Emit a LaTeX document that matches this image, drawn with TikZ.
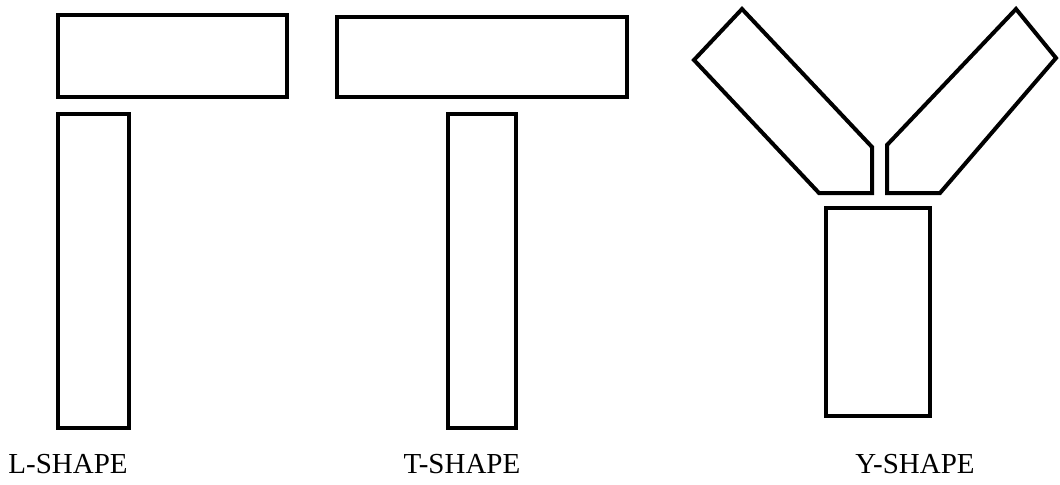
\documentclass[tikz,border=0pt]{standalone}
\usepackage{fontspec}
\setmainfont{Liberation Serif}
\begin{document}
\begin{tikzpicture}[
  x=0.5pt,y=-0.5pt,
  part/.style={draw=black,line width=2pt,line join=miter},
  caption/.style={font=\fontsize{14.5}{17}\selectfont,inner sep=0pt}
]
  \useasboundingbox (0,0) rectangle (1060,484);
  % L-shape
  \draw[part] (58,15) rectangle (287,97);
  \draw[part] (58,114) rectangle (129,428);
  % T-shape
  \draw[part] (337,17) rectangle (627,97);
  \draw[part] (448,114) rectangle (516,428);
  % Y-shape
  \draw[part] (742,9) -- (694,60) -- (819,193) -- (872,193) -- (872,147) -- cycle;
  \draw[part] (1016,9) -- (1056,58) -- (940,193) -- (887,193) -- (887,145) -- cycle;
  \draw[part] (826,208) rectangle (930,416);
  % labels
  \node[caption] (lshape) at (68,464) {L-SHAPE};
  \node[caption] (tshape) at (462,464) {T-SHAPE};
  \node[caption] (yshape) at (915,464) {Y-SHAPE};
\end{tikzpicture}
\end{document}
